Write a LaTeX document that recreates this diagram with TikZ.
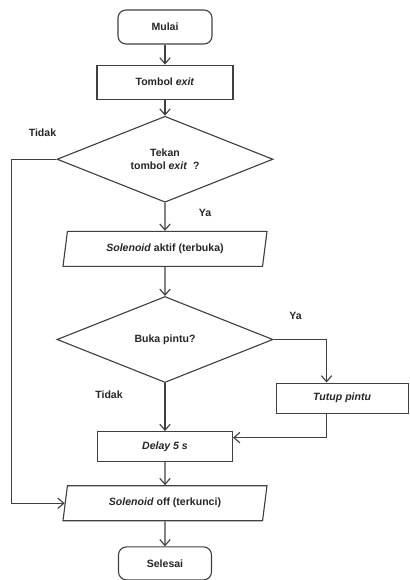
\documentclass[tikz,border=0pt]{standalone}
\usepackage{fontspec}
\setmainfont{Liberation Sans}
\usetikzlibrary{arrows.meta, positioning, shapes.geometric}

\begin{document}
\begin{tikzpicture}[
  font=\fontsize{7.5}{9}\selectfont\bfseries,
  base/.style={draw=black!75, line width=0.8pt, align=center, text=black!85, inner sep=2pt},
  term/.style={base, rounded corners=2mm, minimum height=8.5mm},
  proc/.style={base, minimum height=7.5mm},
  dec/.style={base, diamond, aspect=2.5, minimum width=54mm, minimum height=21.5mm, inner sep=1pt},
  io/.style={base, trapezium, trapezium left angle=74, trapezium right angle=106, trapezium stretches body, minimum width=51mm, minimum height=8.75mm},
  lbl/.style={text=black!85},
  arr/.style={-{Straight Barb[length=1.5mm, width=2.6mm]}, draw=black!75, line width=0.8pt}
]
\useasboundingbox (-41.25mm,6.75mm) rectangle (61mm,-138.25mm);

\node[term, minimum width=23.5mm] (mulai) at (0,0) {Mulai};
\node[proc, minimum width=34mm, minimum height=8.5mm, below=5mm of mulai] (tombol) {Tombol \textit{exit}};
\node[dec, below=4mm of tombol] (tekan) {Tekan\\tombol \textit{exit}\ \ ?};
\node[io, below=7mm of tekan] (aktif) {\textit{Solenoid} aktif (terbuka)};
\node[dec, below=7.25mm of aktif] (buka) {Buka pintu?};
\node[proc, minimum width=33.75mm, below=12mm of buka] (delay) {\textit{Delay 5 s}};
\node[io, below=5.75mm of delay] (off) {\textit{Solenoid} off (terkunci)};
\node[term, minimum width=23.25mm, minimum height=8.25mm, below=6.25mm of off] (selesai) {Selesai};

% cabang ya dari buka pintu
\coordinate (ya2) at ([xshift=13.25mm]buka.east);
\node[proc, minimum width=33mm, anchor=north west] (tutup) at ([xshift=0.5mm, yshift=-10.75mm]buka.east) {\textit{Tutup pintu}};

% label
\node[lbl] (tidak1) at ([xshift=-3.5mm, yshift=6.75mm]tekan.west) {Tidak};
\node[lbl] (ya1) at ([xshift=10mm, yshift=-2.5mm]tekan.south) {Ya};
\node[lbl] (ya2l) at ([xshift=5.5mm, yshift=6mm]buka.east) {Ya};
\node[lbl] (tidak2) at ([xshift=-14mm, yshift=-3mm]buka.south) {Tidak};

\draw[arr] (mulai) -- (tombol);
\draw[arr] (tombol) -- (tekan);
\draw[arr] (tekan) -- (aktif);
\draw[arr] (aktif) -- (buka);
\draw[arr] (buka) -- (delay);
\draw[arr] (delay) -- (off);
\draw[arr] (off) -- (selesai);
\draw[arr] (buka.east) -- (ya2) -- (ya2 |- tutup.north);
\draw[arr] (ya2 |- tutup.south) |- ([yshift=2.25mm]delay.east);
\draw[arr] (tekan.west) -- ++(-11.25mm,0) |- (off.west);
\end{tikzpicture}
\end{document}
